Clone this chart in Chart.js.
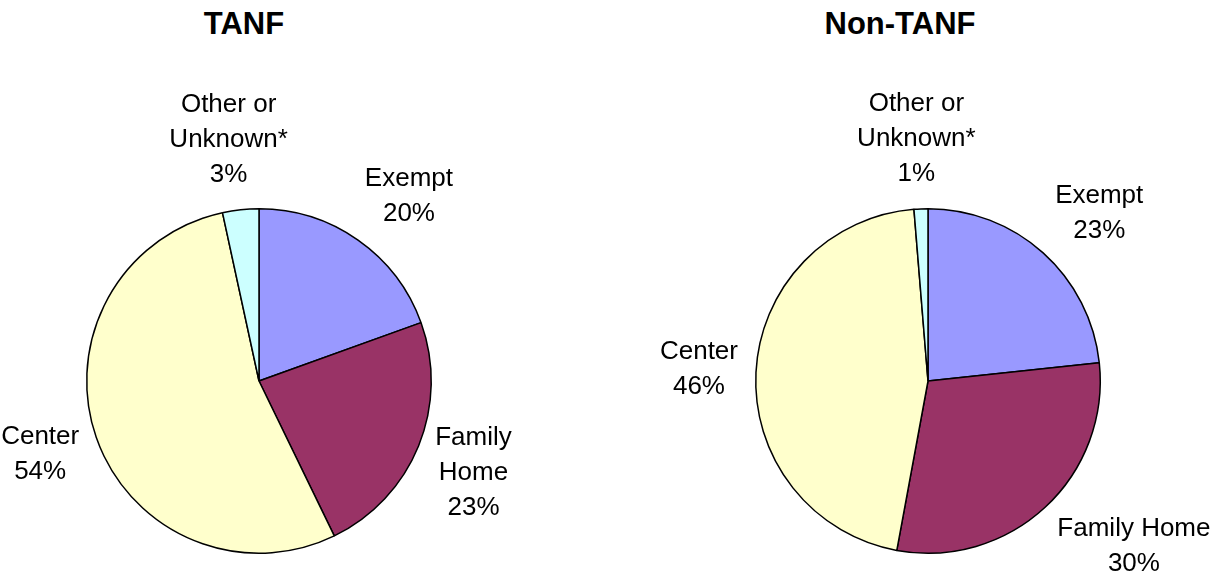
<!DOCTYPE html>
<html>
<head>
<meta charset="utf-8">
<script src="https://cdn.jsdelivr.net/npm/chart.js@4/dist/chart.umd.min.js"></script>
<style>
  body { margin: 0; background: #fff; }
  #wrap { position: relative; width: 1230px; height: 585px; overflow: hidden; }
  canvas { position: absolute; top: 0; }
  .ttl { position: absolute; top: 8px; font: bold 31px "Liberation Sans", Arial, sans-serif; line-height: 31px; text-align: center; color: #000; }
</style>
</head>
<body>
<div id="wrap">
  <div class="ttl" style="left:0;width:488px">TANF</div>
  <div class="ttl" style="left:700px;width:400px">Non-TANF</div>
  <canvas id="tanf" width="615" height="585" style="left:0"></canvas>
  <canvas id="nontanf" width="615" height="585" style="left:615px"></canvas>
</div>
<script>
// care type shares
var categories = ["Exempt", "Family Home", "Center", "Other or Unknown*"];
var tanfValues = [19.5, 23.3, 53.8, 3.4];
var nonTanfValues = [23.3, 29.6, 45.8, 1.3];

// how each category name is wrapped next to its slice
var tanfLabelLines = [["Exempt"], ["Family", "Home"], ["Center"], ["Other or", "Unknown*"]];
var nonTanfLabelLines = [["Exempt"], ["Family Home"], ["Center"], ["Other or", "Unknown*"]];

var sliceColors = ["#9999FF", "#993366", "#FFFFCC", "#CCFFFF"];

/* draws the outside labels: name lines + rounded percent */
var outsideLabels = {
  id: "outsideLabels",
  afterDraw: function(chart, args, opts) {
    var ctx = chart.ctx;
    var meta = chart.getDatasetMeta(0);
    var vals = chart.data.datasets[0].data;
    var total = vals.reduce(function(a, b) { return a + b; }, 0);
    var lineH = 35;
    ctx.save();
    ctx.font = '26px "Liberation Sans", Arial, sans-serif';
    ctx.fillStyle = "#000";
    ctx.textAlign = "center";
    ctx.textBaseline = "middle";
    meta.data.forEach(function(arc, i) {
      var lines = opts.lines[i].concat([Math.round(vals[i] / total * 100) + "%"]);
      var w = 0;
      lines.forEach(function(t) { w = Math.max(w, ctx.measureText(t).width); });
      var h = lines.length * lineH;
      var mid = (arc.startAngle + arc.endAngle) / 2;
      var dx = Math.cos(mid), dy = Math.sin(mid);
      var R = arc.outerRadius + opts.gap;
      var sx = Math.max(-1, Math.min(1, dx * 1.6));
      var cx = arc.x + dx * R + sx * w / 2;
      var cy = arc.y + dy * R + dy * h / 2;
      lines.forEach(function(t, k) {
        ctx.fillText(t, cx, cy - h / 2 + lineH * (k + 0.5));
      });
    });
    ctx.restore();
  }
};

function makePie(canvasId, values, labelLines, padLeft, padRight) {
  var ctx = document.getElementById(canvasId).getContext("2d");
  return new Chart(ctx, {
    type: "pie",
    data: {
      labels: categories,
      datasets: [{
        data: values,
        backgroundColor: sliceColors,
        borderColor: "#000",
        borderWidth: 1.5
      }]
    },
    options: {
      responsive: false,
      animation: false,
      layout: { padding: { top: 208, bottom: 31, left: padLeft, right: padRight } },
      plugins: {
        legend: { display: false },
        tooltip: { enabled: false },
        outsideLabels: { lines: labelLines, gap: 18 }
      }
    },
    plugins: [outsideLabels]
  });
}

makePie("tanf", tanfValues, tanfLabelLines, 86, 183);
makePie("nontanf", nonTanfValues, nonTanfLabelLines, 140, 129);
</script>
</body>
</html>
